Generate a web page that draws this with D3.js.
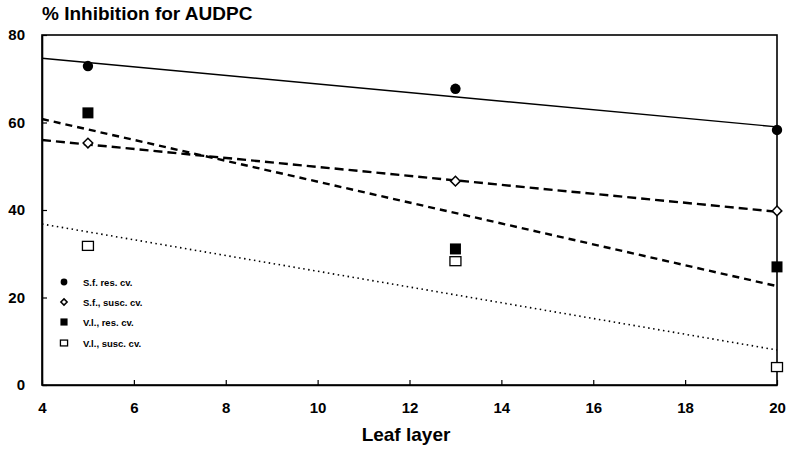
<!DOCTYPE html>
<html><head><meta charset="utf-8">
<script src="https://cdn.jsdelivr.net/npm/d3@7"></script>
<style>body{margin:0;background:#fff}svg{display:block;font-family:"Liberation Sans",Arial,sans-serif}</style>
</head><body><svg id="c" width="787" height="449"></svg>
<script>
const leafLayers = [5, 13, 20];
const sfRes   = [72.9, 67.7, 58.3];
const sfSusc  = [55.3, 46.6, 39.8];
const vlRes   = [62.2, 31.1, 27.0];
const vlSusc  = [31.8, 28.3, 4.1];
const trendX      = [4, 20];
const sfResTrend  = [74.7, 59.0];
const sfSuscTrend = [56.0, 39.6];
const vlResTrend  = [60.8, 22.6];
const vlSuscTrend = [36.8, 8.0];
const xTicks = [4, 6, 8, 10, 12, 14, 16, 18, 20];
const yTicks = [0, 20, 40, 60, 80];
const legendLabels = ["S.f. res. cv.", "S.f., susc. cv.", "V.l., res. cv.", "V.l., susc. cv."];

const svg = d3.select("#c");
const L = 42, R = 777, T = 35, B = 385;
const x = d3.scaleLinear().domain([4, 20]).range([L, R]);
const y = d3.scaleLinear().domain([0, 80]).range([B, T]);

// frame
svg.append("rect").attr("x", L).attr("y", T).attr("width", R - L).attr("height", B - T)
  .attr("fill", "none").attr("stroke", "#000").attr("stroke-width", 1.6);

// axes
const xa = svg.append("g").attr("transform", `translate(0,${B})`)
  .call(d3.axisBottom(x).tickValues(xTicks).tickSizeInner(-5).tickSizeOuter(0).tickPadding(17));
const ya = svg.append("g").attr("transform", `translate(${L},0)`)
  .call(d3.axisLeft(y).tickValues(yTicks).tickSizeInner(-5).tickSizeOuter(0).tickPadding(17));
[xa, ya].forEach(a => {
  a.select(".domain").attr("stroke-width", 1.6);
  a.selectAll("line").attr("stroke-width", 1.2);
  a.selectAll("text").attr("font-size", 15).attr("font-weight", "bold").attr("fill", "#000")
    .attr("font-family", "'Liberation Sans',Arial,sans-serif");
});

// title & axis label
svg.append("text").attr("x", 42).attr("y", 20).text("% Inhibition for AUDPC")
  .attr("font-size", 19).attr("font-weight", "bold");
svg.append("text").attr("x", 406).attr("y", 441).attr("text-anchor", "middle")
  .text("Leaf layer").attr("font-size", 19).attr("font-weight", "bold");

// trend lines
const line = d3.line().x(d => x(d[0])).y(d => y(d[1]));
const trends = [
  [sfResTrend, null, 1.4],
  [sfSuscTrend, "9,5", 2.4],
  [vlResTrend, "7,5", 2.4],
  [vlSuscTrend, "1.5,3.5", 1.6]
];
trends.forEach(([vals, dash, w]) => {
  svg.append("path").datum(trendX.map((t, i) => [t, vals[i]])).attr("d", line)
    .attr("fill", "none").attr("stroke", "#000").attr("stroke-width", w)
    .attr("stroke-dasharray", dash);
});

// markers
function marker(g, type, cx, cy, s) {
  if (type === 0) g.append("circle").attr("cx", cx).attr("cy", cy).attr("r", 5.2 * s).attr("fill", "#000");
  else if (type === 1) {
    const h = 4.8 * s;
    g.append("path").attr("d", `M${cx},${cy - h}L${cx + h},${cy}L${cx},${cy + h}L${cx - h},${cy}Z`)
      .attr("fill", "#fff").attr("stroke", "#000").attr("stroke-width", 1.5);
  }
  else if (type === 2) g.append("rect").attr("x", cx - 5.5 * s).attr("y", cy - 5.5 * s).attr("width", 11 * s).attr("height", 11 * s).attr("fill", "#000");
  else g.append("rect").attr("x", cx - 5.5 * s).attr("y", cy - 4.5 * s).attr("width", 11 * s).attr("height", 9 * s)
    .attr("fill", "#fff").attr("stroke", "#000").attr("stroke-width", 1.3);
}
const series = [sfRes, sfSusc, vlRes, vlSusc];
series.forEach((vals, k) => {
  vals.forEach((v, i) => marker(svg, k, x(leafLayers[i]), y(v), 1));
});

// legend
const legY = [282, 302, 322, 343];
legendLabels.forEach((lab, k) => {
  marker(svg, k, 64, legY[k], 0.65);
  svg.append("text").attr("x", 83).attr("y", legY[k] + 3.5).text(lab)
    .attr("font-size", 9.5).attr("font-weight", "bold");
});
</script></body></html>
